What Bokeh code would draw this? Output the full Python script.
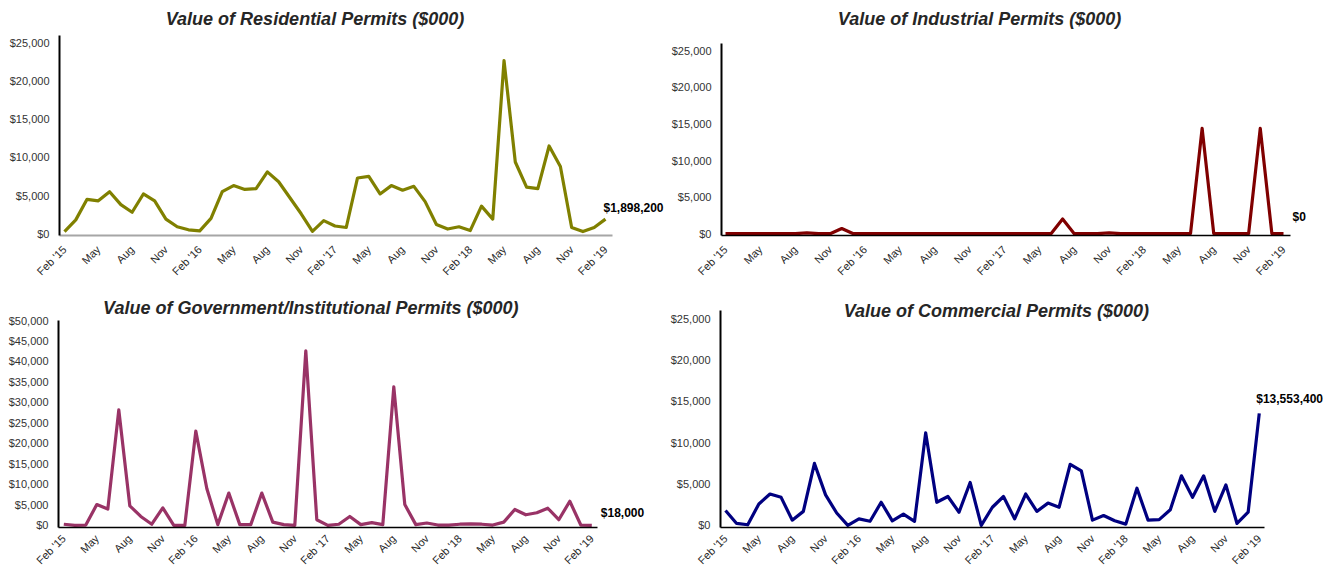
import math
from bokeh.plotting import figure
from bokeh.models import Range1d, FixedTicker, NumeralTickFormatter, Label
from bokeh.layouts import column, row
from bokeh.embed import file_html
from bokeh.resources import INLINE

# ---- data (values in $000, monthly Feb 2015 .. Feb 2019) ----
tick_labels = ["Feb '15", "May", "Aug", "Nov", "Feb '16", "May", "Aug", "Nov",
               "Feb '17", "May", "Aug", "Nov", "Feb '18", "May", "Aug", "Nov", "Feb '19"]

residential = [250, 1800, 4500, 4300, 5500, 3800, 2800, 5200, 4300, 1900, 900, 500, 350,
               2000, 5500, 6300, 5800, 5900, 8100, 6800, 4700, 2600, 300, 1700, 1000,
               800, 7300, 7500, 5200, 6300, 5700, 6200, 4200, 1200, 600, 900, 400,
               3600, 1900, 22700, 9400, 6100, 5900, 11500, 8800, 800, 260, 800, 1898.2]

industrial = [0, 0, 0, 0, 0, 0, 0, 100, 0, 0, 700, 0, 0,
              0, 0, 0, 0, 0, 0, 0, 0, 0, 0, 0, 0,
              0, 0, 0, 0, 2000, 0, 0, 0, 100, 0, 0, 0,
              0, 0, 0, 0, 14400, 0, 0, 0, 0, 14400, 0, 0]

government = [300, 0, 100, 5100, 4000, 28200, 4800, 2200, 300, 4300, 0, 0, 23000,
              9000, 200, 7900, 200, 200, 7900, 800, 200, 0, 42600, 1400, 0,
              300, 2200, 200, 700, 200, 33800, 5100, 200, 600, 100, 100, 300,
              400, 300, 100, 800, 3900, 2600, 3100, 4200, 1400, 5900, 100, 18]

commercial = [1800, 240, 80, 2600, 3800, 3400, 640, 1700, 7500, 3700, 1500, 0, 800,
              500, 2800, 560, 1360, 500, 11200, 2800, 3500, 1600, 5200, 0, 2200,
              3500, 800, 3800, 1700, 2700, 2200, 7400, 6600, 640, 1200, 560, 160,
              4500, 640, 700, 1900, 6000, 3400, 6000, 1700, 4900, 240, 1600, 13553.4]

FONT = "Liberation Sans"


def make_panel(values, title, color, *, fig_left, fig_right, frame_left, first_px,
               step_px, axis_right, fh, top_px, bottom_border, y_axis_top,
               y_tick_max, y_step, pad, title_dx, title_dy, lbl_dx, lbl_dy,
               xlabel_standoff=6, xaxis_color="black", xaxis_w=1.5):
    # horizontal geometry (pixels -> data)
    x_start = (frame_left - first_px) / step_px
    x_end = (fig_right - first_px) / step_px
    x_axis_end = (axis_right - first_px) / step_px
    fw = fig_right - frame_left
    # vertical geometry
    scale = (fh - top_px) / (y_axis_top + pad)
    y_end = y_axis_top + top_px / scale

    p = figure(frame_width=fw, frame_height=fh,
               min_border_left=frame_left - fig_left, min_border_right=0,
               min_border_top=0, min_border_bottom=bottom_border,
               x_range=Range1d(x_start, x_end), y_range=Range1d(-pad, y_end),
               output_backend="svg", toolbar_location=None, title=None)
    p.background_fill_color = "white"
    p.border_fill_color = "white"
    p.outline_line_color = None
    p.xgrid.visible = False
    p.ygrid.visible = False

    xs = list(range(len(values)))
    p.line(x=xs, y=values, line_color=color, line_width=3.2, line_join="round")

    ticks = [i * 3 for i in range(len(tick_labels))]
    xa = p.xaxis[0]
    xa.bounds = (x_start, x_axis_end)
    xa.ticker = FixedTicker(ticks=ticks)
    xa.major_label_overrides = {t: l for t, l in zip(ticks, tick_labels)}
    xa.major_label_orientation = math.pi / 4
    xa.major_label_text_font = FONT
    xa.major_label_text_font_size = "11px"
    xa.major_label_text_color = "#262626"
    xa.major_label_standoff = xlabel_standoff
    xa.major_tick_line_color = None
    xa.minor_tick_line_color = None
    xa.axis_line_color = xaxis_color
    xa.axis_line_width = xaxis_w

    ya = p.yaxis[0]
    ya.bounds = (-pad, y_axis_top)
    ya.ticker = FixedTicker(ticks=list(range(0, y_tick_max + 1, y_step)))
    ya.formatter = NumeralTickFormatter(format="$0,0")
    ya.major_label_text_font = FONT
    ya.major_label_text_font_size = "11px"
    ya.major_label_text_color = "#333333"
    ya.major_label_standoff = 4
    ya.major_tick_line_color = None
    ya.minor_tick_line_color = None
    ya.axis_line_color = "black"
    ya.axis_line_width = 2

    center_x = (len(values) - 1) / 2
    p.add_layout(Label(x=center_x, y=y_end, x_offset=title_dx, y_offset=title_dy,
                       text=title, text_align="center", text_baseline="middle",
                       text_font=FONT, text_font_size="18px",
                       text_font_style="bold italic", text_color="#262626"))

    last = values[-1]
    p.add_layout(Label(x=len(values) - 1, y=last, x_offset=lbl_dx, y_offset=lbl_dy,
                       text=f"${round(last * 1000):,}", text_align="left",
                       text_baseline="middle", text_font=FONT, text_font_size="12px",
                       text_font_style="bold", text_color="black"))
    return p


p1 = make_panel(residential, "Value of Residential Permits ($000)", "#808000",
                fig_left=0, fig_right=666, frame_left=59, first_px=64, step_px=11.27,
                axis_right=612, fh=235, top_px=35, bottom_border=50,
                y_axis_top=26000, y_tick_max=25000, y_step=5000, pad=250,
                title_dx=-20, title_dy=-18, lbl_dx=-2, lbl_dy=11,
                xaxis_color="#a6a6a6", xaxis_w=2)
p2 = make_panel(industrial, "Value of Industrial Permits ($000)", "#800000",
                fig_left=666, fig_right=1323, frame_left=721, first_px=725, step_px=11.625,
                axis_right=1290, fh=235, top_px=43, bottom_border=50,
                y_axis_top=26000, y_tick_max=25000, y_step=5000, pad=250,
                title_dx=-25, title_dy=-18, lbl_dx=9, lbl_dy=17)
p3 = make_panel(government, "Value of Government/Institutional Permits ($000)", "#993366",
                fig_left=0, fig_right=666, frame_left=58, first_px=63.3, step_px=11.0,
                axis_right=597, fh=242, top_px=35, bottom_border=38,
                y_axis_top=50000, y_tick_max=50000, y_step=5000, pad=500,
                title_dx=-17, title_dy=-22, lbl_dx=9, lbl_dy=12, xlabel_standoff=3)
p4 = make_panel(commercial, "Value of Commercial Permits ($000)", "#000080",
                fig_left=666, fig_right=1323, frame_left=720, first_px=725, step_px=11.12,
                axis_right=1264, fh=242, top_px=25, bottom_border=38,
                y_axis_top=26000, y_tick_max=25000, y_step=5000, pad=250,
                title_dx=4, title_dy=-25, lbl_dx=-3, lbl_dy=14, xlabel_standoff=3)

layout = column(row(p1, p2), row(p3, p4))
open("out.html", "w").write(file_html(layout, INLINE))
